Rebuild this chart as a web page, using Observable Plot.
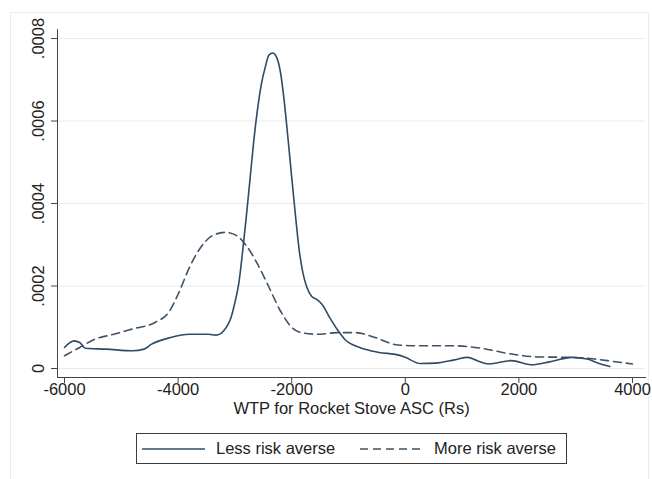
<!DOCTYPE html>
<html><head><meta charset="utf-8">
<script src="https://cdn.jsdelivr.net/npm/d3@7"></script>
<script src="https://cdn.jsdelivr.net/npm/@observablehq/plot@0.6"></script>
<style>
body{margin:0;background:#fff;font-family:"Liberation Sans",Arial,sans-serif;}
#wrap{position:relative;width:652px;height:479px;overflow:hidden;background:#fff}
#border{position:absolute;left:10px;top:12px;width:637px;height:520px;border:1px solid #ececec;}
#chart{position:absolute;left:0;top:0}
#legend{position:absolute;left:136px;top:433px;width:431px;height:31px;border:1px solid #3c3c3c;box-sizing:border-box;font-size:16.5px;color:#222;background:#fff}
.item{position:absolute;top:0;height:100%;display:flex;align-items:center}
</style></head>
<body><div id="wrap"><div id="border"></div><div id="chart"></div><div id="legend"></div></div>
<script>
const seriesNames = ["Less risk averse", "More risk averse"];
const lessX = [-6000,-5833,-5733,-5633,-5267,-4800,-4600,-4467,-4133,-3800,-3467,-3333,-3200,-3067,-3000,-2933,-2867,-2800,-2733,-2667,-2600,-2533,-2467,-2400,-2333,-2267,-2200,-2133,-2067,-2000,-1933,-1867,-1800,-1733,-1650,-1567,-1467,-1333,-1200,-1067,-800,-467,-133,0,267,533,867,1100,1267,1467,1867,2233,2533,2933,3200,3400,3600];
const lessY = [0.000051,0.000067,0.000063,0.000049,0.000047,0.000043,0.000047,0.000059,0.000075,0.000083,0.000083,0.000081,0.000091,0.000124,0.00016,0.000205,0.00028,0.000367,0.00046,0.000553,0.00063,0.00069,0.00073,0.00076,0.000765,0.000755,0.00072,0.00065,0.00056,0.000464,0.00037,0.000286,0.00023,0.000197,0.000175,0.000168,0.000156,0.000124,0.000095,0.000071,0.000051,0.000039,0.000033,0.000027,0.000012,0.000013,0.000021,0.000027,0.000019,0.000011,0.000019,0.000009,0.000016,0.000027,0.000023,0.000013,0.000005];
const moreX = [-6000,-5733,-5467,-5133,-4800,-4400,-4167,-4000,-3800,-3600,-3400,-3167,-2967,-2800,-2600,-2400,-2200,-2000,-1800,-1533,-1200,-867,-533,-133,200,867,1333,1867,2333,2933,3333,3667,4000];
const moreY = [0.000031,0.000051,0.000071,0.000083,0.000096,0.000112,0.000136,0.00018,0.000245,0.000294,0.000322,0.00033,0.000322,0.000298,0.000253,0.000197,0.00014,0.0001,0.000086,0.000083,0.000087,0.000087,0.000075,0.000057,0.000055,0.000055,0.000049,0.000035,0.000028,0.000027,0.000023,0.000017,0.000011];
const xTicks = [-6000, -4000, -2000, 0, 2000, 4000];
const yTicks = [0, 0.0002, 0.0004, 0.0006, 0.0008];
const yTickLabels = ["0", ".0002", ".0004", ".0006", ".0008"];
const xLabel = "WTP for Rocket Stove ASC (Rs)";
const colors = ["#2f4b66", "#3e5266"];
const dashes = [null, "8,5"];

const less = lessX.map((x, i) => ({x, y: lessY[i]}));
const more = moreX.map((x, i) => ({x, y: moreY[i]}));

const plot = Plot.plot({
  width: 652, height: 424,
  marginLeft: 57, marginRight: 7, marginTop: 29, marginBottom: 47,
  insetLeft: 7, insetRight: 13, insetTop: 9, insetBottom: 9,
  x: {domain: [-6000, 4000]},
  y: {domain: [0, 0.0008]},
  style: {fontFamily: '"Liberation Sans", Arial, sans-serif', fontSize: "16.5px", color: "#222", background: "transparent"},
  marks: [
    Plot.gridY({ticks: yTicks, stroke: "#e4ecee", strokeOpacity: 1}),
    Plot.frame({anchor: "left", stroke: "#444"}),
    Plot.frame({anchor: "bottom", stroke: "#444"}),
    Plot.axisX({ticks: xTicks, tickSize: 6, tickPadding: 0, label: null, stroke: "#444",
      tickFormat: d => (d < 0 ? "-" + Math.abs(d) : String(d))}),
    Plot.axisY({ticks: yTicks, tickSize: 6, label: null, stroke: "#444", tickFormat: () => ""}),
    Plot.text(yTicks, {y: d => d, text: (d, i) => yTickLabels[i], frameAnchor: "left", dx: -19,
      rotate: -90, textAnchor: "middle", lineAnchor: "middle", fill: "#222"}),
    Plot.text([xLabel], {frameAnchor: "bottom", dy: 36, fill: "#222"}),
    Plot.line(more, {x: "x", y: "y", stroke: colors[1], strokeWidth: 1.6, strokeDasharray: dashes[1], curve: "monotone-x"}),
    Plot.line(less, {x: "x", y: "y", stroke: colors[0], strokeWidth: 1.6, curve: "monotone-x"})
  ]
});
document.getElementById("chart").appendChild(plot);

const legend = document.getElementById("legend");
const lefts = [5, 223];
seriesNames.forEach((name, i) => {
  const item = document.createElement("div");
  item.className = "item";
  item.style.left = lefts[i] + "px";
  item.innerHTML = `<svg width="63" height="4" style="display:block"><line x1="0" y1="2" x2="63" y2="2" stroke="${colors[i]}" stroke-width="1.6" ${dashes[i] ? `stroke-dasharray="${dashes[i]}"` : ""}/></svg><span style="margin-left:11px">${name}</span>`;
  legend.appendChild(item);
});
</script>
</body></html>
